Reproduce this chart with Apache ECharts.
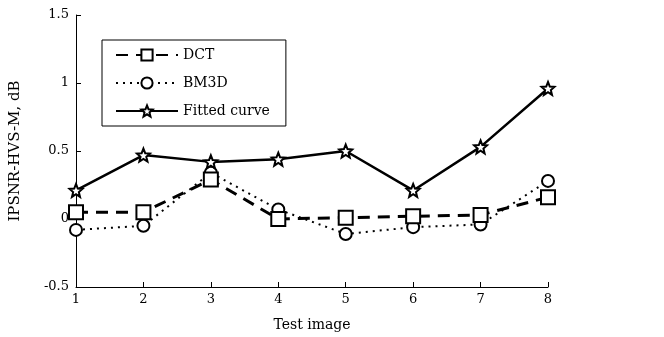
<!DOCTYPE html>
<html><head><meta charset="utf-8">
<script src="https://cdn.jsdelivr.net/npm/echarts@6/dist/echarts.min.js"></script>
<style>html,body{margin:0;padding:0;background:#fff}#c{width:664px;height:337px}</style>
</head><body><div id="c"></div>
<script>
var testImages = [1, 2, 3, 4, 5, 6, 7, 8];
var dct    = [0.05, 0.05, 0.29, 0.00, 0.01, 0.02, 0.03, 0.16];
var bm3d   = [-0.08, -0.05, 0.34, 0.07, -0.11, -0.06, -0.04, 0.28];
var fitted = [0.21, 0.47, 0.42, 0.44, 0.50, 0.21, 0.53, 0.96];
var yTicks = [-0.5, 0, 0.5, 1, 1.5];

function pairs(v){ return testImages.map(function(x,i){ return [x, v[i]]; }); }
var FONT = 'DejaVu Serif';
var FS = 13;
var star = 'path://M0,-10 L2.6,-3.6 L9.5,-3.1 L4.2,1.4 L5.9,8.1 L0,4.4 L-5.9,8.1 L-4.2,1.4 L-9.5,-3.1 L-2.6,-3.6 Z';

var chart = echarts.init(document.getElementById('c'));
chart.setOption({
  animation: false,
  backgroundColor: '#fff',
  textStyle: { fontFamily: FONT, color: '#000' },
  grid: { left: 76, right: 116, top: 15, bottom: 49, containLabel: false },
  legend: {
    orient: 'vertical', left: 102, top: 40,
    padding: [8, 16, 8, 13], itemGap: 14, itemWidth: 62, itemHeight: 14,
    borderColor: '#000', borderWidth: 1, backgroundColor: '#fff', borderRadius: 0,
    textStyle: { fontFamily: FONT, fontSize: 14, color: '#000' },
    data: ['DCT', 'BM3D', 'Fitted curve']
  },
  xAxis: {
    type: 'value', min: 1, max: 8, interval: 1,
    name: 'Test image', nameLocation: 'middle', nameGap: 31,
    nameTextStyle: { fontFamily: FONT, fontSize: 14, color: '#000' },
    axisLine: { onZero: false, lineStyle: { color: '#000', width: 1 } },
    axisTick: { inside: true, length: 5, lineStyle: { color: '#000' } },
    axisLabel: { fontFamily: FONT, fontSize: FS, color: '#000', margin: 6 },
    splitLine: { show: false }
  },
  yAxis: {
    type: 'value', min: -0.5, max: 1.5, interval: 0.5,
    name: 'IPSNR-HVS-M, dB', nameLocation: 'middle', nameGap: 53, nameRotate: 90,
    nameTextStyle: { fontFamily: FONT, fontSize: 15, color: '#000' },
    axisLine: { show: true, onZero: false, lineStyle: { color: '#000', width: 1 } },
    axisTick: { inside: true, length: 5, lineStyle: { color: '#000' } },
    axisLabel: { fontFamily: FONT, fontSize: FS, color: '#000', margin: 7,
      formatter: function(v){ return yTicks.indexOf(v) >= 0 ? String(v) : ''; } },
    splitLine: { show: false }
  },
  series: [
    { name: 'DCT', type: 'line', data: pairs(dct), z: 3,
      symbol: 'rect', symbolSize: 14, showAllSymbol: true,
      lineStyle: { color: '#000', width: 3, type: [12, 8] },
      itemStyle: { color: '#fff', borderColor: '#000', borderWidth: 2 } },
    { name: 'BM3D', type: 'line', data: pairs(bm3d), z: 2,
      symbol: 'circle', symbolSize: 12, showAllSymbol: true,
      lineStyle: { color: '#000', width: 2, type: [2, 5] },
      itemStyle: { color: '#fff', borderColor: '#000', borderWidth: 2 } },
    { name: 'Fitted curve', type: 'line', data: pairs(fitted), z: 4,
      symbol: star, symbolSize: 13, showAllSymbol: true,
      lineStyle: { color: '#000', width: 2.5, type: 'solid' },
      itemStyle: { color: '#fff', borderColor: '#000', borderWidth: 2 } }
  ]
});
</script></body></html>
